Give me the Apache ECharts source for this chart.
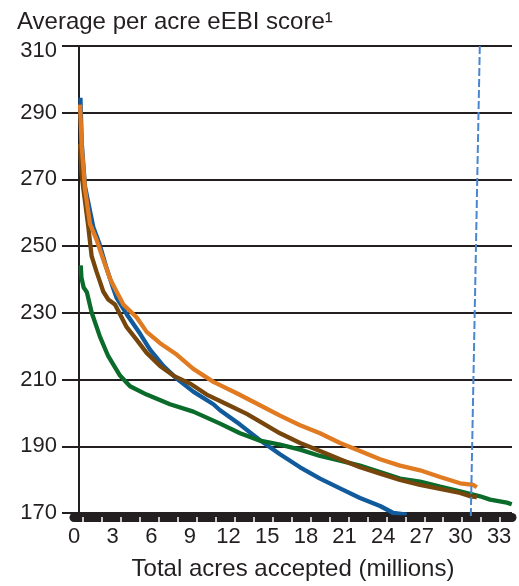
<!DOCTYPE html>
<html><head><meta charset="utf-8">
<script src="https://cdn.jsdelivr.net/npm/echarts@6/dist/echarts.min.js"></script>
<style>html,body{margin:0;padding:0;background:#fff}#c{width:519px;height:586px}</style>
</head><body><div id="c"></div>
<script>
const titleText = 'Average per acre eEBI score\u00B9';
const xTitle = 'Total acres accepted (millions)';
const xLabelValues = [0, 3, 6, 9, 12, 15, 18, 21, 24, 27, 30, 33];
const yLabelValues = [170, 190, 210, 230, 250, 270, 290, 310];
const xMarkTicks = [0.68, 2.15, 3.62, 5.09, 6.57, 8.04, 9.51, 10.99, 12.46, 13.93, 15.40, 16.88,
  18.35, 19.82, 21.30, 22.77, 24.24, 25.72, 27.19, 28.66, 30.13, 31.61, 33.08];

const blueSeries = [[0.5,294.5],[0.6,281],[0.85,268],[1.5,255.7],[1.96,250.9],[2.48,244],[3.03,237.5],
  [3.32,234.4],[4.09,229.6],[5.12,223.8],[5.9,219],[6.93,214.1],[7.97,210.3],[9.26,206.4],[10.82,202.6],
  [11.34,200.8],[12.89,196.5],[14.44,191.8],[15.99,187.6],[17.55,183.7],[19.1,180.3],[20.65,177.4],
  [22.2,174.5],[23.76,172.1],[24.79,170],[25.83,169.5]];
const greenSeries = [[0.52,244.2],[0.58,240.5],[0.75,237.6],[1.0,236.2],[1.37,230.1],[2.02,222.8],[2.66,217],[3.57,211.2],
  [4.35,208],[5.64,205.5],[7.45,202.6],[9.26,200.4],[11.34,196.8],[12.89,193.9],[14.44,191.7],
  [15.99,190.5],[17.55,189],[19.1,187.1],[20.65,185.7],[22.2,184.2],[23.76,182.3],[25.31,180.3],[26.86,179.4],
  [28.42,177.9],[29.97,176.5],[31.52,175],[32.3,174],[33.6,173.1],[33.98,172.6]];
const brownSeries = [[0.47,280.7],[0.58,272],[0.72,267.4],[1.11,255.8],[1.37,247],[1.76,242.2],[2.02,239.3],
  [2.27,236.4],[2.66,234],[3.18,232.5],[4.09,225.7],[4.87,221.9],[5.64,218],[6.68,214.1],[7.71,211.2],
  [9.01,208.8],[10.3,205.5],[11.86,202.6],[13.41,199.7],[14.44,197.4],[15.99,193.9],[17.55,191],[19.1,188.6],
  [20.65,186.1],[22.2,183.7],[23.76,181.8],[25.31,179.9],[26.86,178.4],[28.42,177.2],[29.97,176],
  [30.75,175],[31.27,174.8]];
const orangeSeries = [[0.47,292.4],[0.6,279.9],[0.85,267.3],[1.24,256.7],[1.76,251.8],[2.27,246],[2.8,240.2],
  [3.18,237.3],[3.83,232.5],[4.87,228.6],[5.64,224.3],[6.68,220.9],[7.97,217.5],[9.26,213.2],[10.82,209.3],
  [12.63,205.9],[14.44,202.3],[15.99,199.2],[17.55,196.3],[19.1,193.9],[20.65,191],[22.2,188.6],[23.76,186.1],
  [25.31,184.2],[26.86,182.8],[28.42,180.8],[29.97,178.9],[31,178.4],[31.27,177.7]];
const cutoffLine = [[31.5,310],[30.8,168.5]];

const ink = '#231f20';
const font = 'Liberation Sans, Arial, Helvetica, sans-serif';
const chart = echarts.init(document.getElementById('c'), null, {renderer: 'canvas'});

function lineSeries(data, color) {
  return {type: 'line', data: data, symbol: 'none', showSymbol: false, animation: false,
    lineStyle: {color: color, width: 4.3}, itemStyle: {color: color}};
}

chart.setOption({
  animation: false,
  backgroundColor: '#fff',
  title: {text: titleText, left: 17, top: 10, padding: 0,
    textStyle: {fontFamily: font, fontSize: 24, fontWeight: 'normal', color: ink}},
  grid: {left: 74, right: 7, top: 46, bottom: 57},
  xAxis: {
    type: 'value', min: xLabelValues[0], max: 34, interval: 3, offset: 4,
    axisLine: {show: true, lineStyle: {color: ink, width: 9}},
    axisTick: {show: true, customValues: xMarkTicks, inside: false, length: 5,
      lineStyle: {color: '#ffffff', width: 1.5}},
    axisLabel: {fontFamily: font, fontSize: 22, color: ink, margin: 9, showMaxLabel: false},
    splitLine: {show: false},
    name: xTitle, nameLocation: 'middle', nameGap: 40,
    nameTextStyle: {fontFamily: font, fontSize: 24, color: ink}
  },
  yAxis: {
    type: 'value', min: yLabelValues[0], max: yLabelValues[yLabelValues.length - 1], interval: 20, offset: -5,
    axisLine: {show: true, lineStyle: {color: ink, width: 2}},
    axisTick: {show: true, length: 17, inside: false, lineStyle: {color: ink, width: 2}},
    axisLabel: {fontFamily: font, fontSize: 22, color: ink, margin: 22,
      formatter: function (v) { return v === yLabelValues[yLabelValues.length - 1] ? '{t|' + v + '}' : String(v); },
      rich: {t: {fontFamily: font, fontSize: 22, color: ink, padding: [10, 0, 0, 0]}}},
    splitLine: {show: true, lineStyle: {color: ink, width: 2}}
  },
  series: [
    lineSeries(blueSeries, '#115a9c'),
    lineSeries(greenSeries, '#0a6b2a'),
    lineSeries(brownSeries, '#77460d'),
    lineSeries(orangeSeries, '#e07b22'),
    {type: 'line', data: cutoffLine, symbol: 'none', clip: false, animation: false,
      lineStyle: {color: '#4a86d0', width: 2, type: [8, 3]}}
  ]
});
</script>
</body></html>
